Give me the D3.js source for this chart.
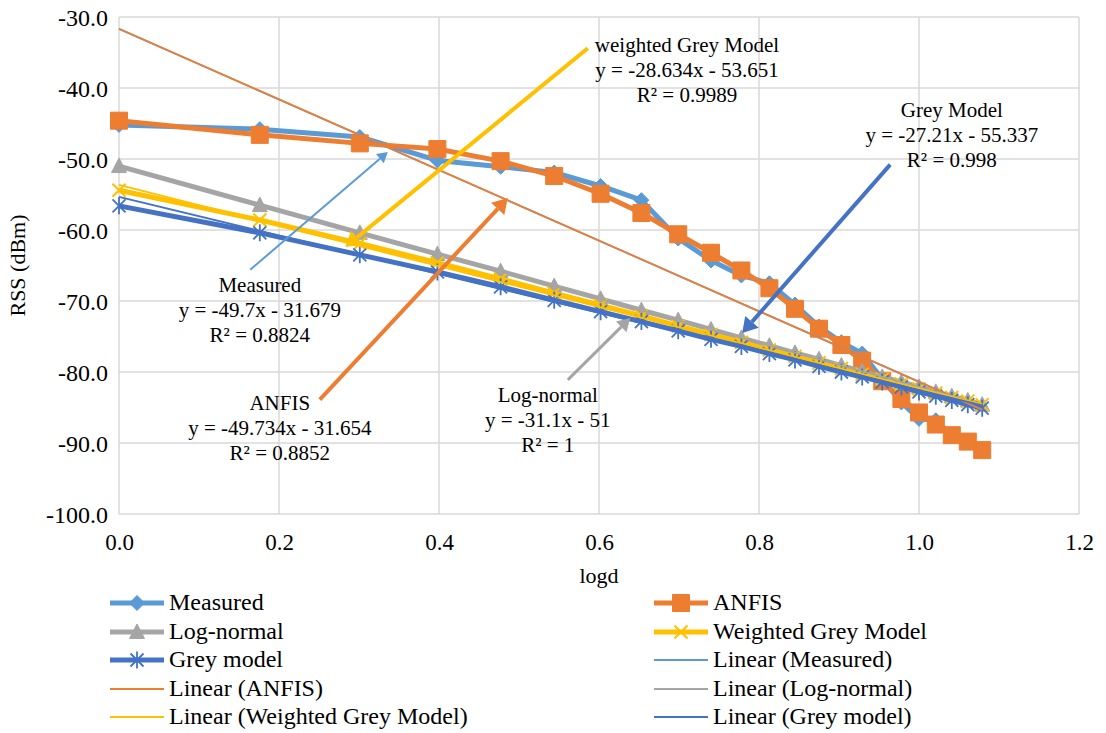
<!DOCTYPE html>
<html>
<head>
<meta charset="utf-8">
<style>
  body { margin: 0; background: #fff; }
  .grid line { stroke: #d9d9d9; stroke-width: 1.5; }
</style>
</head>
<body>
<svg width="1106" height="733"></svg>
<script src="https://d3js.org/d3.v7.min.js"></script>
<script>
// x values (log10 of distance)
const logd = [0, 0.176, 0.301, 0.398, 0.477, 0.544, 0.602, 0.653, 0.699, 0.740, 0.778,
  0.813, 0.845, 0.875, 0.903, 0.929, 0.954, 0.978, 1.0, 1.021, 1.041, 1.061, 1.079];

const measured = [-45.2, -45.8, -46.9, -50.2, -51.1, -51.9, -53.8, -55.8, -61.2, -64.3, -66.4,
  -67.5, -70.5, -73.6, -75.8, -77.4, -81.0, -84.3, -86.6, -86.8, -88.9, -89.9, -91.0];
const anfis = [-44.6, -46.6, -47.8, -48.6, -50.3, -52.4, -54.9, -57.6, -60.6, -63.2, -65.7,
  -68.2, -71.1, -73.9, -76.2, -78.4, -81.3, -83.8, -85.7, -87.4, -88.9, -89.8, -91.0];
const logNormal = [-51.0, -56.5, -60.4, -63.4, -65.8, -67.9, -69.7, -71.3, -72.7, -74.0, -75.2,
  -76.3, -77.3, -78.2, -79.1, -79.9, -80.7, -81.4, -82.1, -82.8, -83.4, -84.0, -84.6];
const weightedGrey = [-54.4, -58.6, -61.9, -64.6, -66.9, -68.9, -70.6, -72.1, -73.5, -74.7, -75.8,
  -76.9, -77.8, -78.7, -79.5, -80.3, -81.0, -81.7, -82.4, -83.0, -83.6, -84.1, -84.6];
const greyModel = [-56.6, -60.4, -63.5, -65.9, -68.0, -69.9, -71.5, -72.9, -74.2, -75.4, -76.4,
  -77.4, -78.3, -79.2, -80.0, -80.7, -81.4, -82.1, -82.8, -83.4, -84.0, -84.6, -85.1];

const seriesNames = ["Measured", "ANFIS", "Log-normal", "Weighted Grey Model", "Grey model"];
const seriesValues = [measured, anfis, logNormal, weightedGrey, greyModel];
const seriesColors = ["#5b9bd5", "#ed7d31", "#a5a5a5", "#ffc000", "#4472c4"];
const markerTypes = ["diamond", "square", "triangle", "x", "star"];

// trendline equations printed on the chart
const trendSlopes = [-49.7, -49.734, -31.1, -28.634, -27.21];
const trendIntercepts = [-31.679, -31.654, -51, -53.651, -55.337];

const xTicks = [0, 0.2, 0.4, 0.6, 0.8, 1.0, 1.2];
const yTicks = [-100, -90, -80, -70, -60, -50, -40, -30];

// annotation callouts (text + arrow), anchored in data units
const noteText = [
  ["Measured", "y = -49.7x - 31.679", "R² = 0.8824"],
  ["ANFIS", "y = -49.734x - 31.654", "R² = 0.8852"],
  ["Log-normal", "y = -31.1x - 51", "R² = 1"],
  ["weighted Grey Model", "y = -28.634x - 53.651", "R² = 0.9989"],
  ["Grey Model", "y = -27.21x - 55.337", "R² = 0.998"]
];
const noteAt = [[0.176, -67.7], [0.201, -84.4], [0.536, -83.2], [0.71, -33.9], [1.041, -43.1]];
const arrowFrom = [[0.164, -65.6], [0.251, -83.9], [0.561, -81.1], [0.586, -34.4], [0.964, -50.8]];
const arrowTo = [[0.336, -49.0], [0.486, -55.5], [0.639, -72.4], [0.283, -62.4], [0.779, -74.5]];
const arrowWidth = [2, 4, 3, 4, 4];

const serif = "'Liberation Serif', 'Times New Roman', Times, serif";

const svg = d3.select("svg");

const x = d3.scaleLinear().domain([0, 1.2]).range([119, 1079]);
const y = d3.scaleLinear().domain([-100, -30]).range([514, 17]);

// gridlines
const grid = svg.append("g").attr("class", "grid");
grid.selectAll(".gx").data(xTicks).join("line")
  .attr("x1", d => x(d)).attr("x2", d => x(d))
  .attr("y1", y(-30)).attr("y2", y(-100));
grid.selectAll(".gy").data(yTicks).join("line")
  .attr("x1", x(0)).attr("x2", x(1.2))
  .attr("y1", d => y(d)).attr("y2", d => y(d));

// axes
svg.append("g")
  .attr("transform", `translate(${x(0) - 11},0)`)
  .call(d3.axisLeft(y).tickValues(yTicks).tickSize(0).tickPadding(0).tickFormat(d => d.toFixed(1)))
  .call(g => g.select(".domain").remove())
  .selectAll("text")
  .attr("dy", "0.34em")
  .style("font-family", serif).style("font-size", "24px").attr("fill", "#000");

svg.append("g")
  .attr("transform", `translate(0,${y(-100) + 20})`)
  .call(d3.axisBottom(x).tickValues(xTicks).tickSize(0).tickPadding(0).tickFormat(d => d.toFixed(1)))
  .call(g => g.select(".domain").remove())
  .selectAll("text")
  .style("font-family", serif).style("font-size", "23px").attr("fill", "#000");

svg.append("text")
  .attr("transform", `translate(25,${(y(-30) + y(-100)) / 2}) rotate(-90)`)
  .attr("text-anchor", "middle")
  .style("font-family", serif).style("font-size", "22px")
  .text("RSS (dBm)");

svg.append("text")
  .attr("x", (x(0) + x(1.2)) / 2)
  .attr("y", 583)
  .attr("text-anchor", "middle")
  .style("font-family", serif).style("font-size", "22px")
  .text("logd");

// marker shapes
function markerPath(type) {
  if (type == "diamond") return "M0,-7.5L7.5,0L0,7.5L-7.5,0Z";
  if (type == "square") return "M-8.5,-8.5H8.5V8.5H-8.5Z";
  if (type == "triangle") return "M0,-8L7.5,6.5H-7.5Z";
  if (type == "x") return "M-6.5,-6.5L6.5,6.5M-6.5,6.5L6.5,-6.5";
  return "M-6.5,-6.5L6.5,6.5M-6.5,6.5L6.5,-6.5M0,-8.5V8.5";
}

function drawMarker(g, type, color) {
  let p = g.append("path").attr("d", markerPath(type));
  if (type == "x" || type == "star") {
    p.attr("fill", "none").attr("stroke", color).attr("stroke-width", type == "x" ? 2 : 1.8);
  } else {
    p.attr("fill", color).attr("stroke", color).attr("stroke-width", 1);
  }
}

const line = d3.line().x(d => x(d[0])).y(d => y(d[1]));

// data series
seriesValues.forEach(function (vals, i) {
  let pts = logd.map((v, j) => [v, vals[j]]);
  let g = svg.append("g");
  g.append("path")
    .attr("d", line(pts))
    .attr("fill", "none")
    .attr("stroke", seriesColors[i])
    .attr("stroke-width", 5)
    .attr("stroke-linejoin", "round");
  pts.forEach(function (p) {
    let m = g.append("g").attr("transform", `translate(${x(p[0])},${y(p[1])})`);
    drawMarker(m, markerTypes[i], seriesColors[i]);
  });
});

// linear trendlines
const xMin = d3.min(logd), xMax = d3.max(logd);
trendSlopes.forEach(function (s, i) {
  let b = trendIntercepts[i];
  svg.append("path")
    .attr("d", line([[xMin, s * xMin + b], [xMax, s * xMax + b]]))
    .attr("stroke", seriesColors[i])
    .attr("stroke-width", 1.75)
    .attr("fill", "none");
});

// callout arrows
arrowFrom.forEach(function (f, i) {
  let x1 = x(f[0]), y1 = y(f[1]), x2 = x(arrowTo[i][0]), y2 = y(arrowTo[i][1]);
  let ang = Math.atan2(y2 - y1, x2 - x1);
  let len = 6 + arrowWidth[i] * 2.2, half = 3 + arrowWidth[i] * 1.5;
  let bx = x2 - len * Math.cos(ang), by = y2 - len * Math.sin(ang);
  svg.append("line")
    .attr("x1", x1).attr("y1", y1).attr("x2", bx).attr("y2", by)
    .attr("stroke", seriesColors[i]).attr("stroke-width", arrowWidth[i]);
  let px = -Math.sin(ang) * half, py = Math.cos(ang) * half;
  svg.append("path")
    .attr("d", `M${x2},${y2}L${bx + px},${by + py}L${bx - px},${by - py}Z`)
    .attr("fill", seriesColors[i]);
});

// callout text
noteText.forEach(function (lines, i) {
  let t = svg.append("text")
    .attr("text-anchor", "middle")
    .style("font-family", serif).style("font-size", "21px");
  lines.forEach(function (s, k) {
    t.append("tspan")
      .attr("x", x(noteAt[i][0]))
      .attr("y", y(noteAt[i][1]) + 7 + k * 25)
      .text(s);
  });
});

// legend
const legendItems = seriesNames.map((n, i) => ({ name: n, color: seriesColors[i], marker: markerTypes[i], width: 5 }))
  .concat(seriesNames.map((n, i) => ({ name: "Linear (" + n + ")", color: seriesColors[i], marker: null, width: 2 })));
const legendCols = [110, 654];
const legendRows = [603, 632, 660, 689, 717];

legendItems.forEach(function (d, i) {
  let lx = legendCols[i % 2], ly = legendRows[Math.floor(i / 2)];
  let g = svg.append("g");
  g.append("line")
    .attr("x1", lx).attr("x2", lx + 54)
    .attr("y1", ly).attr("y2", ly)
    .attr("stroke", d.color).attr("stroke-width", d.width);
  if (d.marker) {
    let m = g.append("g").attr("transform", `translate(${lx + 27},${ly})`);
    drawMarker(m, d.marker, d.color);
  }
  g.append("text")
    .attr("x", lx + 59)
    .attr("y", ly + 7)
    .style("font-family", serif).style("font-size", "24px")
    .text(d.name);
});
</script>
</body>
</html>
